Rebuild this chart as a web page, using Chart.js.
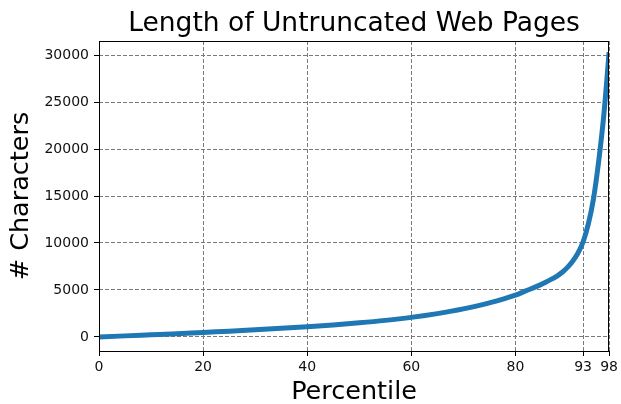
<!DOCTYPE html>
<html>
<head>
<meta charset="utf-8">
<script src="https://cdn.jsdelivr.net/npm/chart.js@4/dist/chart.umd.min.js"></script>
<style>
  html, body { margin: 0; padding: 0; background: #fff; }
  #wrap { width: 621px; height: 404px; }
</style>
</head>
<body>
<div id="wrap"><canvas id="chart" width="621" height="404"></canvas></div>
<script>
// percentiles and page length (characters)
const percentiles = [0, 5, 10, 15, 20, 25, 30, 35, 40, 45, 50, 55, 60, 65, 70, 75, 80, 82, 84, 86, 88, 89, 90, 91, 92, 93, 94, 95, 96, 97, 98];
const charCounts = [0, 110, 220, 330, 480, 610, 760, 920, 1090, 1280, 1500, 1760, 2080, 2480, 2980, 3620, 4450, 4900, 5350, 5880, 6480, 6880, 7400, 8050, 8900, 10100, 12000, 14700, 18700, 23700, 30300];

const xTicks = [0, 20, 40, 60, 80, 93, 98];
const yTicks = [0, 5000, 10000, 15000, 20000, 25000, 30000];

const FONT = "'DejaVu Sans', sans-serif";
const GRID = '#7a7a7a';

// black box round the plot area
const frame = {
  id: 'frame',
  afterDraw(chart) {
    const { ctx, chartArea: a } = chart;
    ctx.save();
    ctx.strokeStyle = '#000';
    ctx.lineWidth = 1;
    ctx.strokeRect(Math.round(a.left) + 0.5, Math.round(a.top) + 0.5,
      Math.round(a.right - a.left) - 1, Math.round(a.bottom - a.top));
    ctx.restore();
  }
};

new Chart(document.getElementById('chart'), {
  type: 'line',
  data: {
    datasets: [{
      data: percentiles.map((p, i) => ({ x: p, y: charCounts[i] })),
      borderColor: '#1f77b4',
      borderWidth: 5,
      pointRadius: 0,
      cubicInterpolationMode: 'monotone',
      fill: false
    }]
  },
  options: {
    responsive: false,
    animation: false,
    layout: { padding: { left: 0, right: 11, top: 0, bottom: 0 } },
    plugins: {
      legend: { display: false },
      tooltip: { enabled: false },
      title: {
        display: true,
        fullSize: false,
        text: 'Length of Untruncated Web Pages',
        color: '#000',
        font: { family: FONT, size: 26.5, weight: 'normal', lineHeight: 1.2 },
        padding: { top: 8, bottom: 1.2 }
      }
    },
    scales: {
      x: {
        type: 'linear',
        min: 0,
        max: 98,
        afterBuildTicks: s => { s.ticks = xTicks.map(v => ({ value: v })); },
        afterFit: s => { s.height = 53; },
        ticks: {
          color: '#111',
          font: { family: FONT, size: 14 },
          padding: 3,
          maxRotation: 0,
          autoSkip: false,
          callback: v => String(v)
        },
        grid: {
          color: GRID,
          borderDash: [4, 2],
          tickBorderDash: [],
          tickColor: '#000',
          tickLength: 5
        },
        border: { display: false, dash: [4, 2] },
        title: {
          display: true,
          text: 'Percentile',
          color: '#000',
          font: { family: FONT, size: 25.5, lineHeight: 0.9 },
          padding: 0
        }
      },
      y: {
        type: 'linear',
        min: -1500,
        max: 31500,
        afterBuildTicks: s => { s.ticks = yTicks.map(v => ({ value: v })); },
        afterFit: s => { s.width = 99; },
        ticks: {
          color: '#111',
          font: { family: FONT, size: 14 },
          padding: 5,
          autoSkip: false,
          callback: v => String(v)
        },
        grid: {
          color: GRID,
          borderDash: [4, 2],
          tickBorderDash: [],
          tickColor: '#000',
          tickLength: 5
        },
        border: { display: false, dash: [4, 2] },
        title: {
          display: true,
          text: '# Characters',
          color: '#000',
          font: { family: FONT, size: 25.5, lineHeight: 1.2 },
          padding: { top: 6, bottom: 0 }
        }
      }
    }
  },
  plugins: [frame]
});
</script>
</body>
</html>
